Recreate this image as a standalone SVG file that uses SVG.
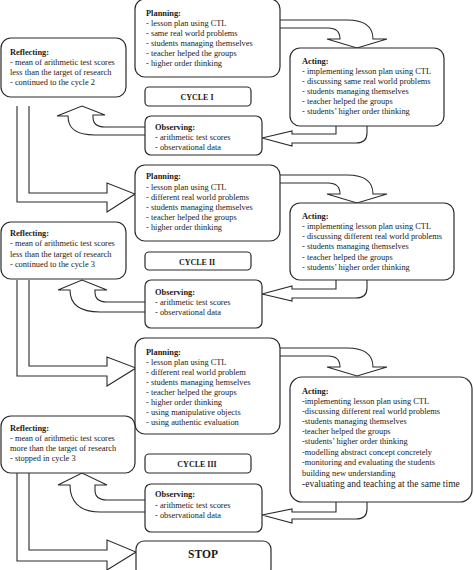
<svg xmlns="http://www.w3.org/2000/svg" width="474" height="570" viewBox="0 0 474 570">
<style>
.box{fill:#fff;stroke:#2a2a2a;stroke-width:1.2}
.arr{fill:#fff;stroke:#2a2a2a;stroke-width:1.1;stroke-linejoin:miter}
text{font-family:"Liberation Serif","Times New Roman",serif;font-size:8.4px;fill:#1a1a1a}
.t{font-weight:bold}
.c{font-weight:bold;font-size:8px;text-anchor:middle}
.stop{font-weight:bold;font-size:11.5px;text-anchor:middle}
.big{font-size:9.5px}
</style>
<rect width="474" height="570" fill="#fff"/>
<g id="connectors">
<!-- planning -> acting -->
<path class="arr" d="M280,20 L347,20 Q373,20 373,39 L387,39 L357,48 L327,39 L340,39 Q340,28 328,28 L280,28"/>
<path class="arr" d="M280,175 L347,175 Q373,175 373,194 L387,194 L357,203 L327,194 L340,194 Q340,183 328,183 L280,183"/>
<path class="arr" d="M280,348 L347,348 Q373,348 373,367 L387,367 L357,376 L327,367 L340,367 Q340,356 328,356 L280,356"/>
<!-- acting -> observing -->
<path class="arr" d="M336,125 L336,134 L292,134 L292,131 L262,138 L292,146 L292,143 L356,143 Q367,143 367,133 L367,125"/>
<path class="arr" d="M336,280 L336,289 L292,289 L292,286 L262,294 L292,301 L292,298 L356,298 Q367,298 367,288 L367,280"/>
<path class="arr" d="M336,502 L336,512 L292,512 L292,509 L262,515 L292,523 L292,519 L356,519 Q367,519 367,509 L367,502"/>
<!-- observing -> reflecting -->
<path class="arr" d="M145,127 L105,127 Q93,127 93,117 L93,115 L105,115 L82,106 L57,116 L68,116 C68,128 75,135 95,135 L145,135"/>
<path class="arr" d="M145,302 L107,302 Q95,302 95,292 L95,290 L107,290 L82,280 L58,290 L70,290 C70,303 78,312 100,312 L145,312"/>
<path class="arr" d="M145,500 L107,500 Q95,500 95,490 L95,485 L107,485 L82,473 L58,485 L70,485 C70,500 78,512 100,512 L145,512"/>
<!-- reflecting -> next planning / stop -->
<path class="arr" d="M29,106 L29,193 L107,193 L107,183 L135,194 L107,212 L107,202 L17,202 L17,106"/>
<path class="arr" d="M29,280 L29,366 L107,366 L107,357 L136,368 L107,386 L107,376 L17,376 L17,280"/>
<path class="arr" d="M29,473 L29,550 L107,550 L107,540 L136,552 L107,570 L107,561 L17,561 L17,473"/>
</g>
<g id="planning1">
<rect class="box" x="135" y="-1" width="145" height="78" rx="10"/>
<text x="146" y="16" class="t">Planning:</text>
<text x="146" y="26">- lesson plan using CTL</text>
<text x="146" y="36">- same real world problems</text>
<text x="146" y="46">- students managing themselves</text>
<text x="146" y="56">- teacher helped the groups</text>
<text x="146" y="66">- higher order thinking</text>
</g>
<g id="acting1">
<rect class="box" x="290" y="48" width="154" height="78" rx="10"/>
<text x="302" y="64" class="t">Acting:</text>
<text x="302" y="74">- implementing lesson plan using CTL</text>
<text x="302" y="84">- discussing same real world problems</text>
<text x="302" y="94">- students managing themselves</text>
<text x="302" y="104">- teacher helped the groups</text>
<text x="302" y="114">- students’ higher order thinking</text>
</g>
<g id="reflecting1">
<rect class="box" x="1" y="38" width="125" height="59" rx="10"/>
<text x="10" y="55" class="t">Reflecting:</text>
<text x="10" y="65">- mean of arithmetic test scores</text>
<text x="10" y="75">less than the target of research</text>
<text x="10" y="85">- continued to the cycle 2</text>
</g>
<g id="cycle1">
<rect class="box" x="145" y="87" width="106" height="19" rx="4"/>
<text x="197" y="100" class="c">CYCLE I</text>
</g>
<g id="observing1">
<rect class="box" x="145" y="116" width="117" height="39" rx="6"/>
<text x="155" y="130" class="t">Observing:</text>
<text x="155" y="140">- arithmetic test scores</text>
<text x="155" y="150">- observational data</text>
</g>
<g id="planning2">
<rect class="box" x="135" y="165" width="145" height="76" rx="10"/>
<text x="146" y="179" class="t">Planning:</text>
<text x="146" y="190">- lesson plan using CTL</text>
<text x="146" y="200">- different real world problems</text>
<text x="146" y="210">- students managing themselves</text>
<text x="146" y="220">- teacher helped the groups</text>
<text x="146" y="230">- higher order thinking</text>
</g>
<g id="acting2">
<rect class="box" x="290" y="203" width="164" height="77" rx="10"/>
<text x="302" y="219" class="t">Acting:</text>
<text x="302" y="229">- implementing lesson plan using CTL</text>
<text x="302" y="239">- discussing different real world problems</text>
<text x="302" y="249">- students managing themselves</text>
<text x="302" y="260">- teacher helped the groups</text>
<text x="302" y="270">- students’ higher order thinking</text>
</g>
<g id="reflecting2">
<rect class="box" x="1" y="222" width="125" height="57" rx="10"/>
<text x="10" y="236" class="t">Reflecting:</text>
<text x="10" y="246">- mean of arithmetic test scores</text>
<text x="10" y="257">less than the target of research</text>
<text x="10" y="267">- continued to the cycle 3</text>
</g>
<g id="cycle2">
<rect class="box" x="145" y="252" width="106" height="18" rx="4"/>
<text x="197" y="265" class="c">CYCLE II</text>
</g>
<g id="observing2">
<rect class="box" x="145" y="280" width="117" height="48" rx="6"/>
<text x="155" y="295" class="t">Observing:</text>
<text x="155" y="305">- arithmetic test scores</text>
<text x="155" y="315">- observational data</text>
</g>
<g id="planning3">
<rect class="box" x="135" y="338" width="145" height="96" rx="10"/>
<text x="146" y="355" class="t">Planning:</text>
<text x="146" y="365">- lesson plan using CTL</text>
<text x="146" y="375">- different real world problem</text>
<text x="146" y="385">- students managing hemselves</text>
<text x="146" y="395">- teacher helped the groups</text>
<text x="146" y="405">- higher order thinking</text>
<text x="146" y="415">- using manipulative objects</text>
<text x="146" y="425">- using authentic evaluation</text>
</g>
<g id="acting3">
<rect class="box" x="290" y="377" width="182" height="125" rx="12"/>
<text x="302" y="394" class="t">Acting:</text>
<text x="302" y="404">-implementing lesson plan using CTL</text>
<text x="302" y="414">-discussing different real world problems</text>
<text x="302" y="424">-students managing themselves</text>
<text x="302" y="434">-teacher helped the groups</text>
<text x="302" y="444">-students’ higher order thinking</text>
<text x="302" y="455">-modelling abstract concept concretely</text>
<text x="302" y="465">-monitoring and evaluating the students</text>
<text x="302" y="476">building new understanding</text>
<text x="302" y="487" class="big">-evaluating and teaching at the same time</text>
</g>
<g id="reflecting3">
<rect class="box" x="1" y="416" width="134" height="57" rx="10"/>
<text x="10" y="431" class="t">Reflecting:</text>
<text x="10" y="441">- mean of arithmetic test scores</text>
<text x="10" y="451">more than the target of research</text>
<text x="10" y="461">- stopped in cycle 3</text>
</g>
<g id="cycle3">
<rect class="box" x="145" y="454" width="106" height="19" rx="4"/>
<text x="197" y="467" class="c">CYCLE III</text>
</g>
<g id="observing3">
<rect class="box" x="145" y="484" width="117" height="48" rx="6"/>
<text x="155" y="497" class="t">Observing:</text>
<text x="155" y="508">- arithmetic test scores</text>
<text x="155" y="518">- observational data</text>
</g>
<g id="stop">
<rect class="box" x="136" y="541" width="135" height="36" rx="8"/>
<text x="203" y="558" class="stop">STOP</text>
</g>
</svg>
